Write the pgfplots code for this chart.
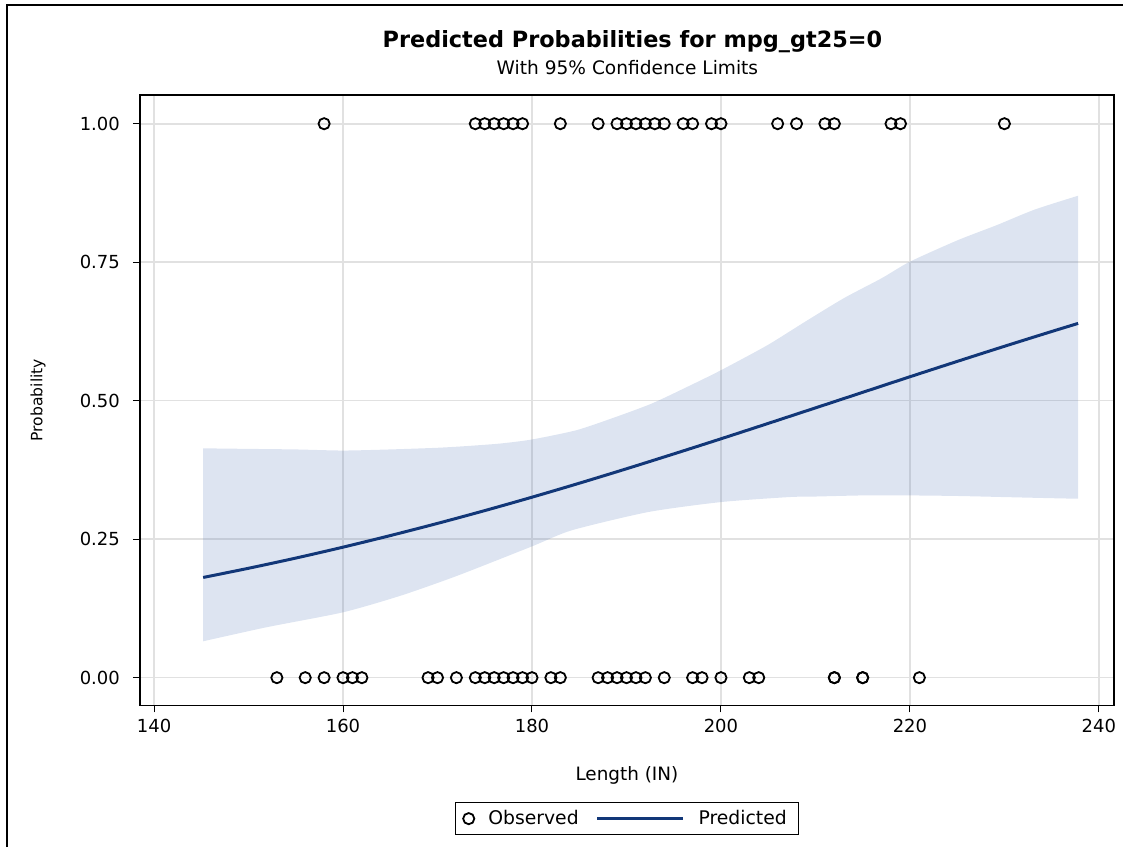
\documentclass[border=0pt]{standalone}
\usepackage{pgfplots}
\pgfplotsset{compat=1.18}
\usepgfplotslibrary{fillbetween}
\usepackage{fontspec}
\setmainfont{DejaVu Sans}

\definecolor{bandcol}{RGB}{70,110,180}
\definecolor{predcol}{RGB}{18,55,120}
\definecolor{gridcol}{RGB}{225,225,225}

\pgfplotsset{longline/.style={legend image code/.code={\draw[##1] (0pt,0pt) -- (43pt,0pt);}}}

\begin{document}
\begin{tikzpicture}
\begin{axis}[
  at={(70pt,-353pt)}, anchor=south west,
  width=487.5pt, height=305.5pt, scale only axis,
  xmin=138.5, xmax=241.6, ymin=-0.05, ymax=1.052,
  xtick={140,160,180,200,220,240},
  ytick={0,0.25,0.5,0.75,1},
  yticklabel style={/pgf/number format/fixed,/pgf/number format/fixed zerofill,
    /pgf/number format/precision=2, xshift=-3pt},
  /pgf/number format/assume math mode=true,
  ticklabel style={font=\fontsize{9}{10}\selectfont},
  xtick pos=lower, ytick pos=left,
  tick align=outside, major tick length=3.5pt,
  tick style={black, line width=0.5pt},
  axis line style={line width=0.8pt},
  grid=major, major grid style={gridcol, line width=0.8pt},
  xlabel={Length (IN)}, ylabel={Probability},
  xlabel style={font=\fontsize{9.2}{10}\selectfont, at={(axis description cs:0.5,-0.115)}, anchor=center},
  ylabel style={font=\fontsize{7.8}{9}\selectfont, at={(axis description cs:-0.1046,0.5)}, anchor=center},
  legend columns=-1,
  legend style={at={(axis description cs:0.5,-0.158)}, anchor=north,
    font=\fontsize{9.4}{10}\selectfont, draw=black, line width=0.6pt,
    inner xsep=4pt, inner ysep=1.8pt,
    /tikz/every odd column/.append style={column sep=5pt},
    /tikz/every even column/.append style={column sep=6.5pt}},
]
% 95% confidence limits
\addplot[name path=upper, draw=none, forget plot, smooth, tension=0.4] coordinates {
  (145.2,0.414)(150,0.413)(155,0.412)(160,0.410)(165,0.412)(170,0.415)
  (173,0.418)(176.6,0.4226)(180,0.430)(184.7,0.4467)(188.7,0.4696)
  (192.7,0.495)(196.8,0.528)(200,0.555)(204.9,0.600)(208.9,0.6425)
  (213,0.685)(217,0.721)(220,0.751)(225.1,0.790)(229.2,0.817)
  (233.2,0.845)(237.8,0.870)};
\addplot[name path=lower, draw=none, forget plot, smooth, tension=0.4] coordinates {
  (145.2,0.0657)(151.9,0.091)(160,0.118)(166.1,0.148)(172.1,0.184)
  (180,0.237)(184.2,0.266)(192.3,0.299)(200,0.317)(207.2,0.326)
  (210,0.327)(215,0.329)(220,0.329)(225,0.328)(230,0.326)(235,0.324)
  (237.8,0.323)};
\addplot[bandcol, fill opacity=0.184, draw=none, forget plot] fill between[of=upper and lower];

% observed
\addplot[only marks, mark=o, mark size=2.8pt, mark options={line width=0.9pt, black}] coordinates {
  (158,1)(174,1)(175,1)(176,1)(177,1)(178,1)(179,1)(183,1)(187,1)
  (189,1)(190,1)(191,1)(192,1)(193,1)(194,1)(196,1)(197,1)(199,1)(200,1)
  (206,1)(208,1)(211,1)(212,1)(218,1)(219,1)(230,1)
  (153,0)(156,0)(158,0)(160,0)(161,0)(162,0)(169,0)(170,0)(172,0)
  (174,0)(175,0)(176,0)(177,0)(178,0)(179,0)(180,0)(182,0)(183,0)
  (187,0)(188,0)(189,0)(190,0)(191,0)(192,0)(194,0)(197,0)(198,0)
  (200,0)(203,0)(204,0)(212,0)(212,0)(215,0)(215,0)(221,0)};
\addlegendentry{Observed}

% predicted
\addplot[predcol, line width=1.5pt, smooth, longline] coordinates {
  (145.2,0.1809)(150,0.1975)(155,0.2159)(160,0.2356)(165,0.2565)(170,0.2785)
  (175,0.3016)(180,0.3258)(185,0.3510)(190,0.3771)(195,0.4039)(200,0.4312)
  (205,0.4590)(210,0.4870)(215,0.5151)(220,0.5432)(225,0.5709)(230,0.5982)
  (235,0.6249)(237.8,0.6395)};
\addlegendentry{Predicted}
\end{axis}

\node[font=\bfseries\fontsize{11.2}{13}\selectfont] at (316.5pt,-21pt) {Predicted Probabilities for mpg\_gt25=0};
\node[font=\fontsize{9.3}{10}\selectfont] at (314pt,-34pt) {With 95\% Confidence Limits};
% outer frame (cut off at right and bottom)
\draw[line width=1pt] (3.5pt,-424pt) -- (3.5pt,-2.5pt) -- (562pt,-2.5pt);
\path (0,0) rectangle (562pt,-424pt);
\end{tikzpicture}
\end{document}
